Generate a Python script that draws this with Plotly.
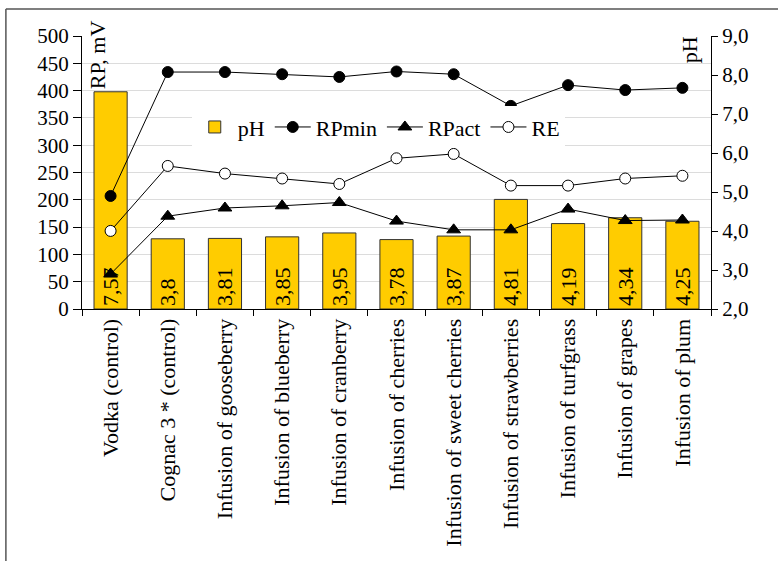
import plotly.graph_objects as go

categories = ["Vodka (control)", "Cognac 3 * (control)", "Infusion of gooseberry",
              "Infusion of blueberry", "Infusion of cranberry", "Infusion of cherries",
              "Infusion of sweet cherries", "Infusion of strawberries", "Infusion of turfgrass",
              "Infusion of grapes", "Infusion of plum"]
ph = [7.57, 3.8, 3.81, 3.85, 3.95, 3.78, 3.87, 4.81, 4.19, 4.34, 4.25]
rp_min = [207, 434, 434, 430, 425, 435, 430, 372, 410, 401, 405]
rp_act = [64, 170, 185, 189, 195, 161, 145, 145, 183, 162, 163]
re_vals = [143, 262, 248, 239, 229, 276, 284, 226, 226, 239, 244]

PH_BASE = 2
FONT = "Liberation Serif, Times New Roman, serif"

ph_text = [f"{v:g}".replace(".", ",") for v in ph]

fig = go.Figure()
fig.add_trace(go.Bar(
    x=categories, y=[v - PH_BASE for v in ph], base=PH_BASE, name="pH",
    marker=dict(color="#FFCC00", line=dict(color="#333333", width=1)),
    text=ph_text, textposition="inside", insidetextanchor="start",
    textangle=-90, constraintext="none",
    textfont=dict(size=22, color="black", family=FONT),
    yaxis="y", hoverinfo="skip",
))
fig.add_trace(go.Scatter(
    x=categories, y=rp_min, name="RPmin", mode="lines+markers", yaxis="y2",
    line=dict(color="black", width=1),
    marker=dict(symbol="circle", size=11, color="black", line=dict(color="black", width=1)),
))
fig.add_trace(go.Scatter(
    x=categories, y=rp_act, name="RPact", mode="lines+markers", yaxis="y2",
    line=dict(color="black", width=1),
    marker=dict(symbol="triangle-up", size=12, color="black", line=dict(color="black", width=1)),
))
fig.add_trace(go.Scatter(
    x=categories, y=re_vals, name="RE", mode="lines+markers", yaxis="y2",
    line=dict(color="black", width=1),
    marker=dict(symbol="circle", size=11, color="white", line=dict(color="black", width=1)),
))

fig.update_layout(
    width=778, height=561,
    margin=dict(l=82, r=67, t=36, b=252, autoexpand=False),
    paper_bgcolor="white", plot_bgcolor="white",
    font=dict(family=FONT, size=22, color="black"),
    separators=",.",
    bargap=0.42,
    showlegend=True,
    legend=dict(orientation="h", x=0.1745, y=0.743, xanchor="left", yanchor="top",
                bgcolor="white", font=dict(size=22, family=FONT), traceorder="normal",
                itemwidth=36, tracegroupgap=0),
    xaxis=dict(
        type="category", range=[-0.5, len(categories) - 0.5], tickangle=-90,
        showline=True, linecolor="black", linewidth=1,
        ticks="outside", ticklen=6, tickcolor="black", tickson="boundaries",
        showgrid=False, tickfont=dict(size=22, family=FONT), mirror=False, automargin=False,
    ),
    yaxis=dict(
        side="right", range=[2, 9], dtick=1, tickformat=".1f",
        showline=True, linecolor="black", linewidth=1,
        ticks="outside", ticklen=6, tickcolor="black", automargin=False,
        showgrid=False, zeroline=False, tickfont=dict(size=21, family=FONT),
    ),
    yaxis2=dict(
        side="left", overlaying="y", range=[0, 500], dtick=50,
        showline=True, linecolor="black", linewidth=1,
        ticks="outside", ticklen=8, tickcolor="black", automargin=False,
        showgrid=True, gridcolor="#dcdcdc", gridwidth=1, zeroline=False,
        tickfont=dict(size=21, family=FONT),
    ),
    annotations=[
        dict(text="RP, mV", xref="paper", yref="paper", x=0.024, y=0.93,
             xanchor="center", yanchor="middle", textangle=-90, showarrow=False,
             font=dict(size=22, family=FONT)),
        dict(text="pH", xref="paper", yref="paper", x=0.967, y=0.949,
             xanchor="center", yanchor="middle", textangle=-90, showarrow=False,
             font=dict(size=22, family=FONT)),
    ],
    shapes=[
        dict(type="line", xref="paper", yref="paper", x0=-0.121, x1=1.2, y0=1.099, y1=1.099,
             line=dict(color="#555555", width=1.5)),
        dict(type="line", xref="paper", yref="paper", x0=-0.121, x1=-0.121, y0=1.099, y1=-1.0,
             line=dict(color="#555555", width=1.5)),
    ],
)

post = (
    "document.body.style.margin='0';document.body.style.overflow='hidden';"
    "var gd=document.getElementById('{plot_id}');"
    "Plotly.newPlot(gd, gd.data, gd.layout, {displayModeBar:false, responsive:true});"
)
fig.write_html("out.html", post_script=post)
